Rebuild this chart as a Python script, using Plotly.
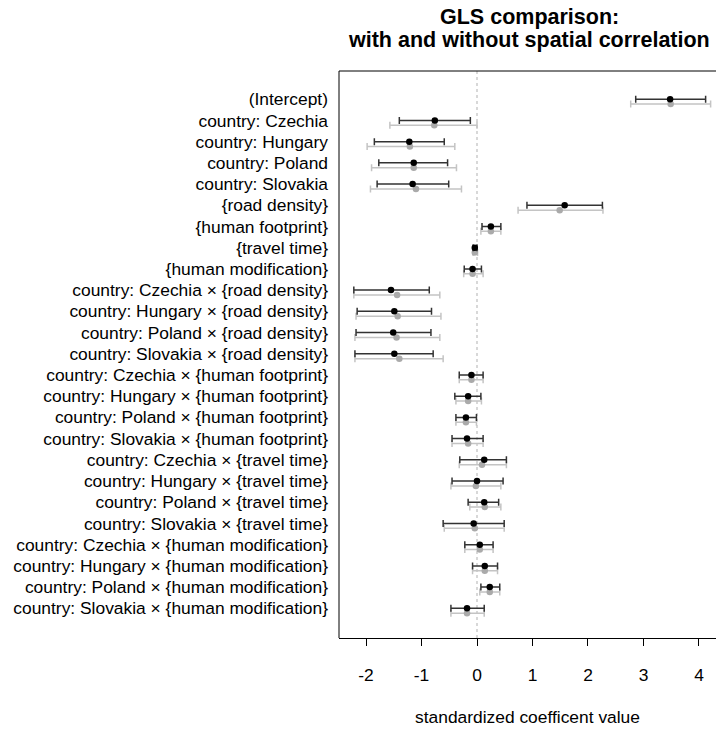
import plotly.graph_objects as go

# Coefficient names, top to bottom
terms = [
    "(Intercept)",
    "country: Czechia",
    "country: Hungary",
    "country: Poland",
    "country: Slovakia",
    "{road density}",
    "{human footprint}",
    "{travel time}",
    "{human modification}",
    "country: Czechia × {road density}",
    "country: Hungary × {road density}",
    "country: Poland × {road density}",
    "country: Slovakia × {road density}",
    "country: Czechia × {human footprint}",
    "country: Hungary × {human footprint}",
    "country: Poland × {human footprint}",
    "country: Slovakia × {human footprint}",
    "country: Czechia × {travel time}",
    "country: Hungary × {travel time}",
    "country: Poland × {travel time}",
    "country: Slovakia × {travel time}",
    "country: Czechia × {human modification}",
    "country: Hungary × {human modification}",
    "country: Poland × {human modification}",
    "country: Slovakia × {human modification}",
]

# GLS with spatial correlation (black)
spat_est = [3.48, -0.76, -1.22, -1.14, -1.16, 1.58, 0.25, -0.04, -0.08,
            -1.55, -1.49, -1.51, -1.49, -0.10, -0.16, -0.20, -0.18,
            0.13, 0.00, 0.13, -0.06, 0.05, 0.14, 0.23, -0.18]
spat_lo = [2.86, -1.40, -1.85, -1.77, -1.80, 0.90, 0.09, -0.07, -0.23,
           -2.22, -2.16, -2.18, -2.20, -0.32, -0.40, -0.38, -0.45,
           -0.31, -0.45, -0.16, -0.61, -0.22, -0.08, 0.07, -0.47]
spat_hi = [4.12, -0.12, -0.59, -0.53, -0.51, 2.26, 0.43, 0.00, 0.08,
           -0.86, -0.82, -0.83, -0.79, 0.11, 0.07, -0.01, 0.11,
           0.53, 0.47, 0.39, 0.49, 0.29, 0.37, 0.41, 0.13]

# GLS without spatial correlation (grey)
nosp_est = [3.49, -0.77, -1.21, -1.14, -1.10, 1.49, 0.25, -0.04, -0.08,
            -1.44, -1.43, -1.45, -1.40, -0.10, -0.16, -0.20, -0.16,
            0.09, -0.02, 0.14, -0.04, 0.05, 0.14, 0.23, -0.18]
nosp_lo = [2.77, -1.57, -1.98, -1.90, -1.92, 0.74, 0.07, -0.07, -0.24,
           -2.22, -2.18, -2.20, -2.20, -0.32, -0.38, -0.38, -0.45,
           -0.32, -0.47, -0.13, -0.59, -0.22, -0.08, 0.05, -0.47]
nosp_hi = [4.21, 0.00, -0.40, -0.37, -0.28, 2.27, 0.43, 0.01, 0.11,
           -0.67, -0.65, -0.67, -0.61, 0.11, 0.08, -0.01, 0.11,
           0.53, 0.43, 0.43, 0.49, 0.29, 0.37, 0.41, 0.13]

x_ticks = [-2, -1, 0, 1, 2, 3, 4]

rows = list(range(len(terms)))
offset = 0.23  # grey estimate sits just below the black one

fig = go.Figure()

fig.add_trace(go.Scatter(
    x=nosp_est, y=[r + offset for r in rows], mode="markers",
    marker=dict(color="#aaaaaa", size=6.5),
    error_x=dict(type="data", symmetric=False,
                 array=[h - e for h, e in zip(nosp_hi, nosp_est)],
                 arrayminus=[e - l for e, l in zip(nosp_est, nosp_lo)],
                 color="#c4c4c4", thickness=1.5, width=3.5),
    showlegend=False, hoverinfo="skip",
))
fig.add_trace(go.Scatter(
    x=spat_est, y=rows, mode="markers",
    marker=dict(color="#000000", size=6.5),
    error_x=dict(type="data", symmetric=False,
                 array=[h - e for h, e in zip(spat_hi, spat_est)],
                 arrayminus=[e - l for e, l in zip(spat_est, spat_lo)],
                 color="#333333", thickness=1.5, width=3.5),
    showlegend=False, hoverinfo="skip",
))

# zero reference line
fig.add_shape(type="line", xref="x", yref="paper", x0=0, x1=0, y0=0, y1=1,
              line=dict(color="#cccccc", width=1.5, dash="dot"), layer="below")
# box: top and left edges (right side runs off the page)
fig.add_shape(type="line", xref="paper", yref="paper", x0=0, x1=1, y0=1, y1=1,
              line=dict(color="#000000", width=1))
fig.add_shape(type="line", xref="paper", yref="paper", x0=0, x1=0, y0=0, y1=1,
              line=dict(color="#000000", width=1))

font = "Liberation Sans, Arial, sans-serif"

fig.add_annotation(text="<b>GLS comparison:</b>", xref="paper", yref="paper",
                   x=0.505, y=1.096, xanchor="center", yanchor="middle",
                   showarrow=False, font=dict(family=font, size=21.5, color="#000"))
fig.add_annotation(text="<b>with and without spatial correlation</b>", xref="paper",
                   yref="paper", x=0.505, y=1.055, xanchor="center", yanchor="middle",
                   showarrow=False, font=dict(family=font, size=21.5, color="#000"))

fig.update_layout(
    width=716, height=729,
    margin=dict(l=338.5, r=0, t=71, b=90.5),
    plot_bgcolor="white", paper_bgcolor="white",
    font=dict(family=font, size=17.4, color="#000"),
    xaxis=dict(
        range=[-2.487, 4.307], tickvals=x_ticks, ticktext=[str(t) for t in x_ticks],
        showgrid=False, zeroline=False, showline=True, linecolor="#000", linewidth=1,
        ticks="outside", ticklen=7, tickcolor="#000", tickwidth=1,
        tickfont=dict(size=17.4), ticklabelstandoff=14,
        title=dict(text="standardized coefficent value", font=dict(size=17.4), standoff=26),
    ),
    yaxis=dict(
        range=[25.40, -1.33], tickvals=rows, ticktext=terms,
        showgrid=False, zeroline=False, showline=False, ticks="",
        tickfont=dict(size=17.4), ticklabelstandoff=10,
    ),
)

fig.write_html("out.html")
